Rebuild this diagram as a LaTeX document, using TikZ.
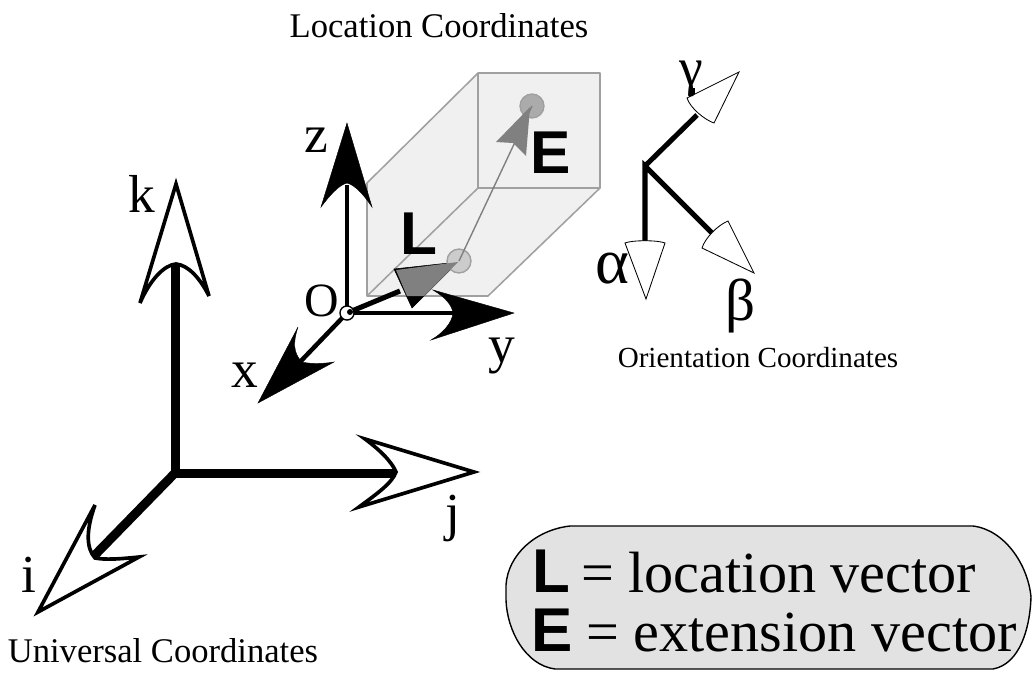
\documentclass[tikz,border=0pt]{standalone}
\usepackage{fontspec}
\setmainfont{Liberation Serif}
\setsansfont{Liberation Sans}
\usepackage{xcolor}
\usetikzlibrary{positioning}
\definecolor{boxfill}{HTML}{F0F0F0}
\definecolor{boxline}{HTML}{A0A0A0}
\definecolor{vecgray}{HTML}{808080}
\definecolor{pillfill}{HTML}{E2E2E2}

\begin{document}
\begin{tikzpicture}[
  x=0.025cm, y=-0.025cm,
  lbl/.style={inner sep=0pt, font=\fontsize{38}{38}\selectfont},
  caption/.style={inner sep=0pt, font=\fontsize{24.6}{24.6}\selectfont},
  vecname/.style={inner sep=0pt, font=\fontsize{43}{43}\sffamily\bfseries\selectfont},
  keyname/.style={anchor=base west, inner sep=0pt, font=\fontsize{44}{44}\sffamily\bfseries\selectfont},
  keytext/.style={anchor=base west, inner sep=0pt, font=\fontsize{41.4}{41.4}\selectfont},
  edgebox/.style={draw=boxline, line width=1.1pt, line join=round},
  ushaft/.style={line width=6.4pt},
  lshaft/.style={line width=3.2pt},
  oshaft/.style={line width=3.6pt},
  uhead/.style={draw=black, fill=white, line width=2.6pt, line join=miter},
  lhead/.style={draw=black, fill=black, line width=0.3pt},
  ohead/.style={draw=black, fill=white, line width=0.6pt},
  ball/.style={circle, draw=boxline, line width=1pt, minimum size=17pt, inner sep=0pt},
]
\useasboundingbox (0,0) rectangle (1032,672);
\coordinate (uo) at (175,473);
\coordinate (ui) at (93,557);
\coordinate (uj) at (395,473);
\coordinate (uk) at (175,265);
\coordinate (lo) at (347,313);
\coordinate (lx) at (300,362);
\coordinate (ly) at (453,313);
\coordinate (lz) at (347,185);
\coordinate (ll) at (459,261);
\coordinate (le) at (532,106);
\coordinate (oc) at (645,166);
\coordinate (oa) at (645,241);
\coordinate (ob) at (712,233);
\coordinate (og) at (697,115);
% location box
\draw[edgebox, fill=boxfill] (367,183) -- (478,73) -- (600,73) -- (600,188) -- (488,296) -- (367,296) -- cycle;
\draw[edgebox] (478,73) -- (478,188) -- (600,188) (478,188) -- (367,296);
% universal axes
\draw[ushaft] (uj) -- (uo) -- (uk);
\draw[ushaft] (uo) -- (ui);
\draw[uhead] (176,184) -- (209,296) .. controls (200,278) and (188,265) .. (176,264) .. controls (164,265) and (150,280) .. (140,303) -- cycle;
\draw[uhead] (474,472) -- (359,507) .. controls (378,493) and (392,483) .. (396,472) .. controls (392,462) and (380,450) .. (365,439) -- cycle;
\draw[uhead] (38,612) -- (95,505) .. controls (86,530) and (86,548) .. (95,558) .. controls (105,560) and (120,559) .. (139,557) -- cycle;
% location axes
\draw[lshaft] (lo) -- (lz);
\draw[lshaft] (lo) -- (ly);
\draw[lshaft] (lo) -- (lx);
\draw[lhead] (347,123) -- (372,207) .. controls (364,195) and (355,185) .. (347,183) .. controls (339,185) and (330,195) .. (321,207) -- cycle;
\draw[lhead] (514,313) -- (431,340) .. controls (443,333) and (452,323) .. (453,313) .. controls (452,305) and (445,297) .. (433,290) -- cycle;
\draw[lhead] (258,403) -- (298,327) .. controls (293,342) and (293,353) .. (302,362) .. controls (310,364) and (322,364) .. (334,362) -- cycle;
% location vector
\draw[line width=3.6pt] (lo) -- (400,291);
\draw[fill=black] (458,262) -- (394,269) -- (412,308) -- cycle;
\begin{scope}
\clip (367,183) -- (478,73) -- (600,73) -- (600,188) -- (488,296) -- (367,296) -- cycle;
\node[ball, fill=black!20] (lball) at (ll) {};
\fill[vecgray] (458,262) -- (396,270) -- (412,308) -- cycle;
\end{scope}
\node[ball, fill=black!33] (eball) at (le) {};
\draw[vecgray, line width=1pt] (ll) -- (le);
\fill[vecgray] (530,107) -- (496,142) -- (513,143) -- (526,156) -- cycle;
\node[circle, fill=white, draw=black, line width=1pt, minimum size=10pt, inner sep=0pt] (onode) at (lo) {};
\fill (350,312) circle (3);
% orientation axes
\draw[oshaft] (oa) -- (oc) -- (ob);
\draw[oshaft] (oc) -- (og);
\draw[oshaft] (692,88) -- (692,100);
\draw[ohead] (646,299) -- (665,243) .. controls (658,240) and (632,240) .. (625,243) -- cycle;
\draw[ohead] (754,273) -- (702,248) .. controls (705,238) and (718,225) .. (728,221) -- cycle;
\draw[ohead] (739,72) -- (714,123) .. controls (705,120) and (690,108) .. (687,98) -- cycle;
% labels
\node[vecname] (lname) at (419,234) {L};
\node[vecname] (ename) at (551,153) {E};
\node[lbl, anchor=base] (zlbl) at (316,152) {z};
\node[lbl, anchor=base, font=\fontsize{34}{34}\selectfont] (olbl) at (322,316) {O};
\node[lbl, anchor=base] (xlbl) at (245,387) {x};
\node[lbl, anchor=base] (ylbl) at (502,362) {y};
\node[lbl, anchor=base] (klbl) at (142,212) {k};
\node[lbl, anchor=base] (ilbl) at (29,592) {i};
\node[lbl, anchor=base] (jlbl) at (453,530) {j};
\node[lbl, anchor=base, font=\fontsize{46}{46}\selectfont] (albl) at (612,283) {α};
\node[lbl, anchor=base, font=\fontsize{42}{42}\selectfont] (blbl) at (741,320) {β};
\node[lbl, anchor=base] (glbl) at (691,85) {γ};
\node[caption] (loccap) at (439,26) {Location Coordinates};
\node[caption, font=\fontsize{20.7}{20.7}\selectfont] (oricap) at (758,358) {Orientation Coordinates};
\node[caption] (unicap) at (163,651) {Universal Coordinates};
% legend
\draw[line width=1pt, fill=pillfill] (570,526) -- (973,526) .. controls (1005,530) and (1028,565) .. (1031,597) .. controls (1030,628) and (1020,664) .. (993,669) -- (555,669) .. controls (525,665) and (507,630) .. (506,600) -- (506,585) .. controls (508,555) and (535,530) .. (570,526) -- cycle;
\node[keyname] (lkey) at (532,592) {L};
\node[keytext] (ltext) at (581,592) {= location vector};
\node[keyname] (ekey) at (531,651) {E};
\node[keytext] (etext) at (586,651) {= extension vector};
\end{tikzpicture}
\end{document}
